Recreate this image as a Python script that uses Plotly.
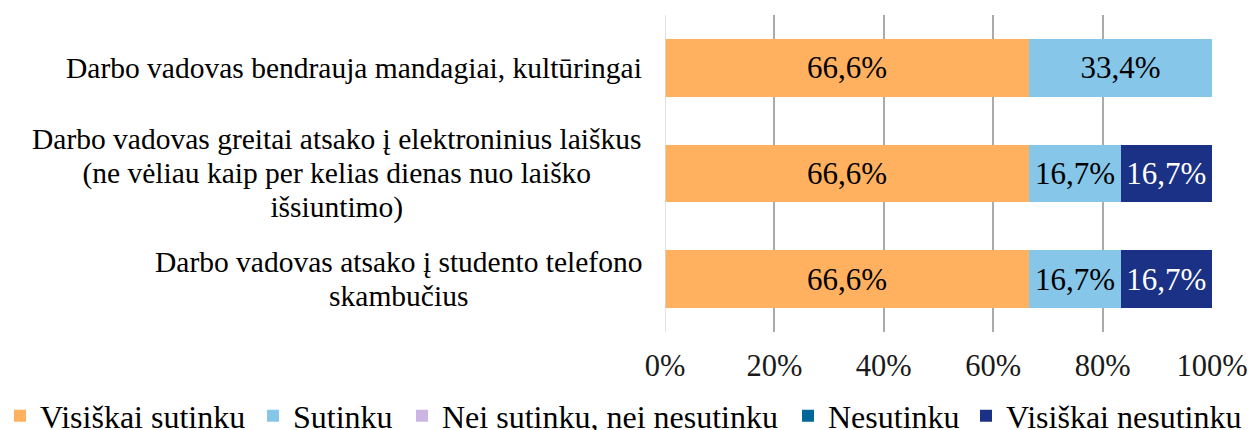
import plotly.graph_objects as go

categories = [
    "Darbo vadovas bendrauja mandagiai, kultūringai",
    "Darbo vadovas greitai atsako į elektroninius laiškus<br>(ne vėliau kaip per kelias dienas nuo laiško<br>išsiuntimo)",
    "Darbo vadovas atsako į studento telefono<br>skambučius",
]
series_names = ["Visiškai sutinku", "Sutinku", "Nei sutinku, nei nesutinku", "Nesutinku", "Visiškai nesutinku"]
visiskai_sutinku = [66.6, 66.6, 66.6]
sutinku = [33.4, 16.7, 16.7]
nei_nei = [0, 0, 0]
nesutinku = [0, 0, 0]
visiskai_nesutinku = [0, 16.7, 16.7]
tick_vals = [0, 20, 40, 60, 80, 100]
tick_text = ["0%", "20%", "40%", "60%", "80%", "100%"]

series_values = [visiskai_sutinku, sutinku, nei_nei, nesutinku, visiskai_nesutinku]
colors = ["#FFB15F", "#85C6E9", "#CAB5E3", "#006699", "#1A3185"]
text_colors = ["#000000", "#000000", "#000000", "#FFFFFF", "#FFFFFF"]
legend_ids = ["legend", "legend2", "legend3", "legend4", "legend5"]
legend_symbol_centers = [16, 276, 425, 811, 989]

W, H = 1248, 430
FONT = "Liberation Serif, Times New Roman, serif"
FS_LABEL = 29.5
FS_DATA = 31
FS_TICK = 30.5
FS_LEG = 32

fig = go.Figure()
for name, vals, col, tcol, lid in zip(series_names, series_values, colors, text_colors, legend_ids):
    labels = [(f"{v:.1f}".replace(".", ",") + "%") if v else "" for v in vals]
    fig.add_trace(go.Bar(
        y=list(range(len(categories))), x=vals, name=name, orientation="h",
        marker=dict(color=col, line=dict(width=0)),
        text=labels, textposition="inside", insidetextanchor="middle",
        textfont=dict(family=FONT, size=FS_DATA, color=tcol),
        constraintext="none", legend=lid, showlegend=True,
    ))

for i, cat in enumerate(categories):
    styled = "<br>".join(f"<span style='font-size:{FS_LABEL}px'>{ln}</span>" for ln in cat.split("<br>"))
    fig.add_annotation(
        x=0, xref="paper", y=i, yref="y", text=styled, showarrow=False,
        xanchor="right", yanchor="middle", align="center", xshift=-21,
        font=dict(family=FONT, size=26, color="#000000"),
    )

legend_layout = {}
for lid, cx in zip(legend_ids, legend_symbol_centers):
    legend_layout[lid] = dict(
        orientation="h", xref="container", yref="container",
        x=(cx - 23) / W, y=1 - 416 / H, xanchor="left", yanchor="middle",
        font=dict(family=FONT, size=FS_LEG, color="#000000"),
        itemwidth=30, bgcolor="rgba(0,0,0,0)", borderwidth=0,
    )

fig.update_layout(
    barmode="stack", bargap=0.456,
    width=W, height=H, showlegend=True,
    margin=dict(l=665, r=36, t=15, b=98, autoexpand=False),
    paper_bgcolor="white", plot_bgcolor="white",
    font=dict(family=FONT, size=FS_TICK, color="#000000"),
    xaxis=dict(
        range=[0, 100], tickvals=tick_vals, ticktext=tick_text,
        showgrid=True, gridcolor="#ABABAB", gridwidth=1.5,
        zeroline=False, showline=False, automargin=False,
        ticks="outside", ticklen=6, tickcolor="rgba(0,0,0,0)",
        ticklabeloverflow="allow",
        tickfont=dict(family=FONT, size=FS_TICK, color="#1a1a1a"),
    ),
    yaxis=dict(showticklabels=False, showgrid=False, zeroline=False,
               autorange="reversed", automargin=False),
    **legend_layout,
)
fig.add_shape(type="line", xref="x", yref="paper", x0=0, x1=0, y0=0, y1=1,
              line=dict(color="#D9D9D9", width=1.5), layer="above")

fig.write_html("out.html", config={"displayModeBar": False},
               post_script="document.body.style.margin='0';document.body.style.overflow='hidden';")
